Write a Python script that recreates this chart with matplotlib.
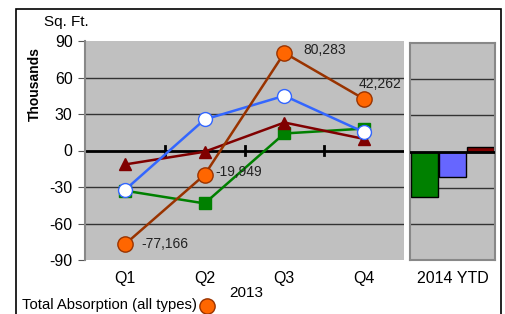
import matplotlib.pyplot as plt
from matplotlib.patches import Rectangle

plt.rcParams['font.family'] = ['Liberation Sans', 'DejaVu Sans']

quarters = ['Q1', 'Q2', 'Q3', 'Q4']
total = [-77.166, -19.949, 80.283, 42.262]
total_labels = ['-77,166', '-19,949', '80,283', '42,262']
blue_series = [-32.5, 25.5, 45, 15]
green_series = [-33, -43.5, 14, 18]
red_series = [-11.5, -1, 23, 9.5]
ytd_values = [-37.5, -21, 3.5]
ytd_colors = ['#008000', '#6666FF', '#800000']
yticks = [90, 60, 30, 0, -30, -60, -90]

W, H = 505, 314
fig = plt.figure(figsize=(W / 100, H / 100), dpi=100)

def px_axes(x0, y0, x1, y1):
    return fig.add_axes([x0 / W, 1 - y1 / H, (x1 - x0) / W, (y1 - y0) / H])

# outer frame
fig.patches.append(Rectangle((16 / W, -0.1), (501 - 16) / W, 1 - 9 / H + 0.1,
                             transform=fig.transFigure, fill=False,
                             edgecolor='black', linewidth=1.2))

ax = px_axes(85, 41, 404, 260)
ax.set_facecolor('#C0C0C0')
x = list(range(len(quarters)))
ax.set_xlim(-0.5, 3.5)
ax.set_ylim(-90, 90)

for v in [60, 30, -30, -60]:
    ax.axhline(v, color='#333333', linewidth=1, zorder=1)
ax.axhline(0, color='black', linewidth=2, zorder=2)
for b in [0.5, 1.5, 2.5]:
    ax.plot([b, b], [-3.5, 3.5], color='black', linewidth=2, zorder=2)

ax.plot(x, green_series, color='#008000', linewidth=1.8, marker='s',
        markersize=8, markerfacecolor='#008000', markeredgecolor='#008000', zorder=3)
ax.plot(x, red_series, color='#800000', linewidth=1.8, marker='^',
        markersize=9, markerfacecolor='#800000', markeredgecolor='#800000', zorder=4)
ax.plot(x, blue_series, color='#3366FF', linewidth=1.8, marker='o',
        markersize=10, markerfacecolor='white', markeredgecolor='#3366FF', zorder=5)
ax.plot(x, total, color='#993300', linewidth=1.8, marker='o',
        markersize=11, markerfacecolor='#FF6600', markeredgecolor='#993300', zorder=6)

offsets = [(12, 0), (8, 2), (14, 2), (-4, 11)]
for i, lab in enumerate(total_labels):
    dx, dy = offsets[i]
    ax.annotate(lab, (x[i], total[i]), xytext=(dx, dy), textcoords='offset points',
                ha='left', va='center', fontsize=10, color='#222222', zorder=7)

ax.set_yticks(yticks)
ax.set_yticklabels([str(v) for v in yticks], fontsize=11.5)
ax.set_xticks(x)
ax.set_xticklabels(quarters, fontsize=11.5)
ax.tick_params(axis='x', length=0, pad=8)
ax.tick_params(axis='y', length=5, color='#555555', pad=4)
for s in ['top', 'right', 'bottom']:
    ax.spines[s].set_visible(False)
ax.spines['left'].set_color('#888888')
ax.spines['left'].set_linewidth(1.5)

fig.text(44 / W, 1 - 22 / H, 'Sq. Ft.', fontsize=11, va='center', ha='left')
fig.text(35 / W, 1 - 84 / H, 'Thousands', fontsize=10, fontweight='bold',
         rotation=90, va='center', ha='center')
fig.text(246 / W, 1 - 293 / H, '2013', fontsize=11, va='center', ha='center')
fig.text(22 / W, 1 - 305 / H, 'Total Absorption (all types)', fontsize=10.7,
         va='center', ha='left')
fig.lines.append(plt.Line2D([207 / W], [1 - 306 / H], transform=fig.transFigure,
                            marker='o', markersize=11, markerfacecolor='#FF6600',
                            markeredgecolor='#993300', linestyle='none'))

# 2014 YTD panel
ax2 = px_axes(410, 43, 495, 260)
ax2.set_facecolor('#C0C0C0')
ax2.set_xlim(0, 3)
ax2.set_ylim(-90, 90)
for v in [60, 30, -30, -60]:
    ax2.axhline(v, color='#333333', linewidth=1, zorder=1)
ax2.bar([0.5, 1.5, 2.5], ytd_values, width=0.95, color=ytd_colors,
        edgecolor='black', linewidth=1, zorder=2)
ax2.axhline(0, color='black', linewidth=2, zorder=3)
ax2.set_yticks([])
ax2.set_xticks([1.5])
ax2.set_xticklabels(['2014 YTD'], fontsize=11.5)
ax2.tick_params(axis='x', length=0, pad=8)
for s in ax2.spines.values():
    s.set_color('#888888')
    s.set_linewidth(1.5)

fig.savefig('out.png', dpi=100)
